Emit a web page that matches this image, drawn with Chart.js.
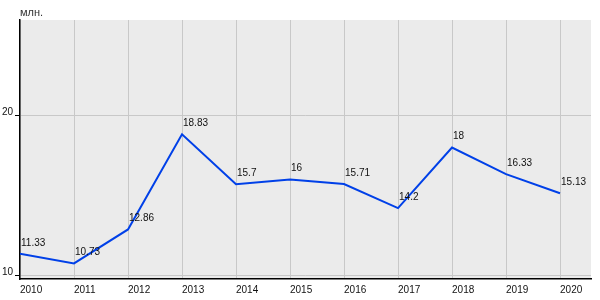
<!DOCTYPE html>
<html>
<head>
<meta charset="utf-8">
<script src="https://cdn.jsdelivr.net/npm/chart.js@4"></script>
<style>
  html, body { margin: 0; padding: 0; background: #fff; }
  #wrap { width: 600px; height: 300px; }
</style>
</head>
<body>
<div id="wrap"><canvas id="chart" width="600" height="300"></canvas></div>
<script>
// values
const years = [2010, 2011, 2012, 2013, 2014, 2015, 2016, 2017, 2018, 2019, 2020]
const values = [11.33, 10.73, 12.86, 18.83, 15.7, 16, 15.71, 14.2, 18, 16.33, 15.13]
const yTicks = [10, 20]
const unitLabel = "млн."

const FONT = "'Liberation Sans', Arial, sans-serif"

// grey plot background, unit caption and point labels
const decorPlugin = {
  id: "decor",
  beforeDraw(chart) {
    const { ctx, chartArea: a } = chart
    ctx.save()
    ctx.fillStyle = "#ebebeb"
    ctx.fillRect(a.left, a.top, a.right - a.left, a.bottom - a.top)
    ctx.restore()
  },
  afterDatasetsDraw(chart) {
    const { ctx } = chart
    const meta = chart.getDatasetMeta(0)
    ctx.save()
    ctx.font = "10px " + FONT
    ctx.fillStyle = "#111"
    ctx.textAlign = "left"
    ctx.textBaseline = "middle"
    meta.data.forEach((pt, i) => {
      ctx.fillText(String(values[i]), pt.x + 1, pt.y - 11)
    })
    ctx.fillStyle = "#333"
    ctx.font = "11px " + FONT
    ctx.fillText(unitLabel, 20, 13)
    ctx.restore()
  }
}

new Chart(document.getElementById("chart"), {
  type: "line",
  data: {
    datasets: [{
      data: years.map((y, i) => ({ x: y, y: values[i] })),
      borderColor: "#0040e8",
      borderWidth: 2,
      pointRadius: 0,
      tension: 0,
      fill: false
    }]
  },
  options: {
    responsive: false,
    animation: false,
    layout: { padding: { top: 20, right: 9, left: 0, bottom: 0 } },
    plugins: { legend: { display: false }, tooltip: { enabled: false } },
    scales: {
      x: {
        type: "linear",
        min: 2010,
        max: 2020.574,
        afterBuildTicks: (scale) => { scale.ticks = years.map(v => ({ value: v })) },
        afterFit: (scale) => { scale.height = 21 },
        grid: { color: "#c8c8c8", lineWidth: 1, drawTicks: false },
        border: { color: "#000", width: 1.5 },
        ticks: {
          align: "start",
          padding: 5,
          color: "#111",
          font: { size: 10, family: FONT },
          callback: (v) => String(v)
        }
      },
      y: {
        min: 9.75,
        max: 26,
        afterBuildTicks: (scale) => { scale.ticks = yTicks.map(v => ({ value: v })) },
        afterFit: (scale) => { scale.width = 20 },
        grid: { color: "#c8c8c8", lineWidth: 1, tickLength: 5, tickColor: "#000" },
        border: { color: "#000", width: 1.5 },
        ticks: {
          padding: 2,
          labelOffset: -3,
          color: "#111",
          font: { size: 10, family: FONT }
        }
      }
    }
  },
  plugins: [decorPlugin]
})
</script>
</body>
</html>
